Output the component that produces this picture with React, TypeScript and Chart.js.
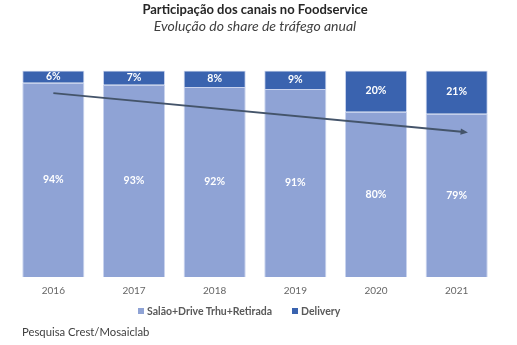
import React, { useEffect, useRef } from "react";
import { Chart, registerables } from "chart.js";

Chart.register(...registerables);

const years = ["2016", "2017", "2018", "2019", "2020", "2021"];
const salao = [94, 93, 92, 91, 80, 79];
const delivery = [6, 7, 8, 9, 20, 21];
const trendStart = 89;
const trendEnd = 70;
const seriesNames = ["Salão+Drive Trhu+Retirada", "Delivery"];
const seriesColors = ["#8FA3D5", "#3A63AF"];

const FONT = "Lato, 'Open Sans', sans-serif";

const labelPlugin = {
  id: "barLabels",
  afterDatasetsDraw(chart: any) {
    const ctx = chart.ctx;
    ctx.save();
    ctx.fillStyle = "#ffffff";
    ctx.font = `bold 10.5px ${FONT}`;
    ctx.textAlign = "center";
    ctx.textBaseline = "middle";
    chart.data.datasets.forEach((ds: any, di: number) => {
      const meta = chart.getDatasetMeta(di);
      meta.data.forEach((el: any, i: number) => {
        const y = (el.y + el.base) / 2;
        ctx.fillText(ds.data[i] + "%", el.x, y);
      });
    });
    ctx.restore();
  },
};

const arrowPlugin = {
  id: "trendArrow",
  afterDatasetsDraw(chart: any) {
    const ctx = chart.ctx;
    const xs = chart.scales.x;
    const ys = chart.scales.y;
    const x0 = xs.getPixelForValue(0);
    const x1c = xs.getPixelForValue(years.length - 1);
    const step = xs.getPixelForValue(1) - x0;
    const x1 = x1c + step * 0.14;
    const y0 = ys.getPixelForValue(trendStart);
    const y1 = ys.getPixelForValue(trendEnd);
    const ang = Math.atan2(y1 - y0, x1 - x0);
    const head = 8;
    ctx.save();
    ctx.strokeStyle = "#44546A";
    ctx.fillStyle = "#44546A";
    ctx.lineWidth = 2;
    ctx.beginPath();
    ctx.moveTo(x0, y0);
    ctx.lineTo(x1 - Math.cos(ang) * head * 0.8, y1 - Math.sin(ang) * head * 0.8);
    ctx.stroke();
    ctx.beginPath();
    ctx.moveTo(x1, y1);
    ctx.lineTo(x1 - head * Math.cos(ang - 0.4), y1 - head * Math.sin(ang - 0.4));
    ctx.lineTo(x1 - head * Math.cos(ang + 0.4), y1 - head * Math.sin(ang + 0.4));
    ctx.closePath();
    ctx.fill();
    ctx.restore();
  },
};

export default function App() {
  const ref = useRef<HTMLCanvasElement | null>(null);
  useEffect(() => {
    document.body.style.margin = "0";
    const chart = new Chart(ref.current as HTMLCanvasElement, {
      type: "bar",
      data: {
        labels: years,
        datasets: [
          {
            label: seriesNames[0],
            data: salao,
            backgroundColor: seriesColors[0],
            borderColor: "#C9D3EE",
            borderWidth: 1,
            barPercentage: 0.77,
            categoryPercentage: 1,
          },
          {
            label: seriesNames[1],
            data: delivery,
            backgroundColor: seriesColors[1],
            borderColor: "#C9D3EE",
            borderWidth: 1,
            barPercentage: 0.77,
            categoryPercentage: 1,
          },
        ],
      },
      options: {
        animation: false,
        responsive: false,
        maintainAspectRatio: false,
        layout: { padding: { left: 13, right: 20, top: 0, bottom: 40 } },
        scales: {
          x: {
            stacked: true,
            grid: { display: false, drawTicks: false, tickLength: 0 },
            border: { display: false },
            ticks: { color: "#666666", font: { family: FONT, size: 10 }, padding: 8 },
          },
          y: { stacked: true, display: false, min: 0, max: 100 },
        },
        plugins: {
          title: {
            display: true,
            text: "Participação dos canais no Foodservice",
            color: "#262626",
            font: { family: FONT, size: 13, weight: "bold" },
            padding: { top: 2, bottom: 0 },
          },
          subtitle: {
            display: true,
            text: "Evolução do share de tráfego anual",
            color: "#404040",
            font: { family: FONT, size: 14, style: "italic" },
            padding: { top: 0, bottom: 36 },
          },
          legend: { display: false },
          tooltip: { enabled: false },
        },
      },
      plugins: [labelPlugin, arrowPlugin],
    });
    return () => chart.destroy();
  }, []);
  const legendLeft = [138, 292];
  return (
    <div style={{ position: "relative", width: 517, height: 345, background: "#fff" }}>
      <canvas ref={ref} width={517} height={345} style={{ display: "block" }} />
      {seriesNames.map((n, i) => (
        <div
          key={n}
          style={{
            position: "absolute",
            left: legendLeft[i],
            top: 304,
            height: 14,
            display: "flex",
            alignItems: "center",
            fontFamily: FONT,
            fontSize: 10.5,
            fontWeight: "bold",
            color: "#595959",
            whiteSpace: "nowrap",
          }}
        >
          <span style={{ display: "inline-block", width: 6, height: 6, background: seriesColors[i], marginRight: 3 }} />
          {n}
        </div>
      ))}
      <div
        style={{
          position: "absolute",
          left: 22,
          top: 325,
          fontFamily: FONT,
          fontSize: 11.3,
          color: "#404040",
          lineHeight: "14px",
          whiteSpace: "nowrap",
        }}
      >
        Pesquisa Crest/Mosaiclab
      </div>
    </div>
  );
}
